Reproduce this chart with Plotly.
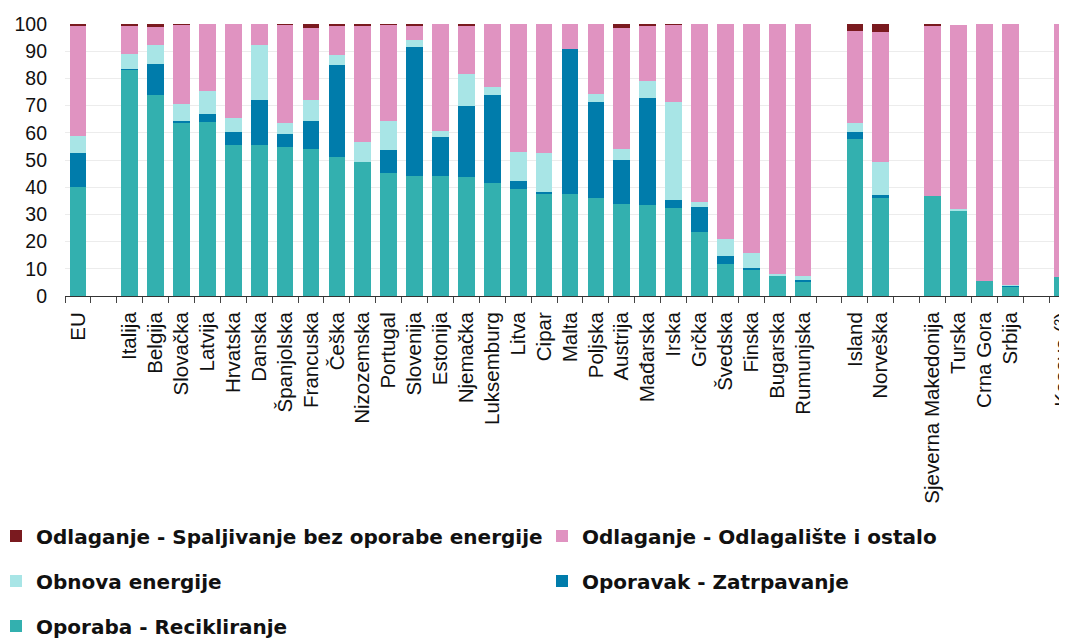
"""
Struktura obrade otpada po zemljama (%), naslagani stupci
"""

import plotly.graph_objects as go

# Kategorije na x-osi (prazni razmaci su zasebne kategorije)
zemlje = [
    'EU', ' ',
    'Italija', 'Belgija', 'Slovačka', 'Latvija', 'Hrvatska', 'Danska',
    'Španjolska', 'Francuska', 'Češka', 'Nizozemska', 'Portugal',
    'Slovenija', 'Estonija', 'Njemačka', 'Luksemburg', 'Litva', 'Cipar',
    'Malta', 'Poljska', 'Austrija', 'Mađarska', 'Irska', 'Grčka',
    'Švedska', 'Finska', 'Bugarska', 'Rumunjska', '  ',
    'Island', 'Norveška', '   ',
    'Sjeverna Makedonija', 'Turska', 'Crna Gora', 'Srbija', '    ',
    'Kosovo (²)',
]

N = None
recikliranje = [
    40.0, N,
    83.2, 74.0, 63.8, 63.8, 55.6, 55.6, 54.6, 54.2, 51.0, 49.2, 45.2,
    44.3, 44.2, 43.8, 41.6, 39.4, 37.7, 37.4, 36.1, 33.9, 33.6, 32.5,
    23.7, 11.8, 9.7, 7.6, 5.2, N,
    57.9, 36.2, N,
    36.8, 31.3, 5.5, 3.2, N,
    7.0,
]
zatrpavanje = [
    12.5, N,
    0.3, 11.2, 0.6, 3.1, 4.8, 16.5, 5.0, 10.0, 33.8, 0.0, 8.5,
    47.2, 14.2, 26.1, 32.3, 2.8, 0.7, 53.4, 35.4, 16.2, 39.2, 2.7,
    8.9, 2.8, 0.7, 0.0, 0.8, N,
    2.3, 1.0, N,
    0.0, 0.0, 0.0, 0.8, N,
    0.0,
]
obnova_energije = [
    6.5, N,
    5.5, 7.2, 6.2, 8.3, 5.1, 20.3, 4.1, 7.8, 3.9, 7.6, 10.8,
    2.7, 2.2, 11.8, 2.9, 10.7, 14.1, 0.0, 2.6, 3.8, 6.3, 36.1,
    2.0, 6.3, 5.4, 0.6, 1.2, N,
    3.5, 12.2, N,
    0.0, 0.6, 0.0, 0.2, N,
    0.0,
]
odlagaliste = [
    40.4, N,
    10.4, 6.5, 29.3, 24.8, 34.5, 7.6, 36.2, 26.4, 10.8, 42.3, 35.3,
    5.2, 39.4, 17.7, 23.2, 47.1, 47.5, 9.2, 25.9, 44.6, 20.4, 28.4,
    65.4, 79.1, 84.2, 91.8, 92.8, N,
    33.8, 47.7, N,
    62.7, 67.6, 94.5, 95.8, N,
    93.0,
]
spaljivanje = [
    0.6, N,
    0.6, 1.1, 0.1, 0.0, 0.0, 0.0, 0.1, 1.6, 0.5, 0.9, 0.2,
    0.6, 0.0, 0.6, 0.0, 0.0, 0.0, 0.0, 0.0, 1.5, 0.5, 0.3,
    0.0, 0.0, 0.0, 0.0, 0.0, N,
    2.5, 2.9, N,
    0.5, 0.0, 0.0, 0.0, N,
    0.0,
]

# Stranica ima 8 px margine (body), pa se koordinate pomiču za 8 px
OFF = 8
W, H = 1067, 643
ML = 65 - OFF
MT = 24 - OFF
MB = H - (296 - OFF)
plot_w = W - ML
plot_h = H - MT - MB


def px_x(px):
    return (px - OFF - ML) / plot_w


def px_y(py):
    return (H - MB - (py - OFF)) / plot_h


# Serije odozdo prema gore: (naziv, vrijednosti, boja, legenda, x px, y px)
serije = [
    ('Oporaba - Recikliranje', recikliranje, '#33b0af', 'legend5', -4, 626),
    ('Oporavak - Zatrpavanje', zatrpavanje, '#007cab', 'legend4', 542, 581),
    ('Obnova energije', obnova_energije, '#a8e5e6', 'legend3', -4, 581),
    ('Odlaganje - Odlagalište i ostalo', odlagaliste, '#e093c1', 'legend2', 542, 536),
    ('Odlaganje - Spaljivanje bez oporabe energije', spaljivanje, '#7a1a1f', 'legend', -4, 536),
]

fig = go.Figure()
legende = {}
for naziv, vrijednosti, boja, leg, lx, ly in serije:
    fig.add_trace(go.Bar(
        x=zemlje,
        y=vrijednosti,
        name=naziv,
        marker={'color': boja, 'line': {'width': 0}},
        legend=leg,
    ))
    legende[leg] = dict(
        orientation='h',
        font={'family': 'DejaVu Sans', 'size': 20, 'color': '#111111', 'weight': 'bold'},
        xanchor='left',
        yanchor='middle',
        x=px_x(lx),
        y=px_y(ly),
        bgcolor='rgba(0,0,0,0)',
        borderwidth=0,
    )

fig.update_layout(
    barmode='stack',
    bargap=0.355,
    width=W,
    height=H,
    margin={'l': ML, 'r': 0, 't': MT, 'b': MB, 'autoexpand': False},
    plot_bgcolor='white',
    paper_bgcolor='white',
    font={'family': 'Liberation Sans, Arial', 'color': '#111111'},
    xaxis={
        'type': 'category',
        'categoryorder': 'array',
        'categoryarray': zemlje,
        'range': [-0.5, 38.5],
        'tickangle': -90,
        'tickson': 'boundaries',
        'ticks': 'outside',
        'ticklen': 6,
        'tickcolor': '#444444',
        'ticklabelstandoff': 7,
        'showline': True,
        'linecolor': '#333333',
        'linewidth': 1,
        'showgrid': False,
        'tickfont': {'size': 20.5, 'color': '#111111'},
    },
    yaxis={
        'range': [0, 100],
        'dtick': 10,
        'showgrid': True,
        'gridcolor': '#ececec',
        'zeroline': False,
        'showline': False,
        'ticks': '',
        'ticklabelstandoff': 17,
        'tickfont': {'size': 19.5, 'color': '#111111'},
    },
    showlegend=True,
    **legende,
)

fig.write_html("out.html")
